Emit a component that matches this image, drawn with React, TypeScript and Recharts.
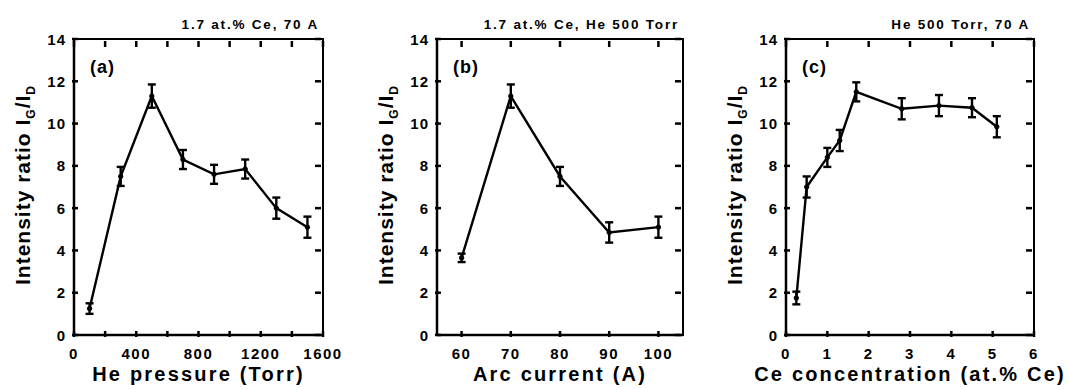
import React from "react";
import { LineChart, Line, XAxis, YAxis, ErrorBar } from "recharts";

// (a) He pressure series
const pressure = [100, 300, 500, 700, 900, 1100, 1300, 1500];
const ratioA = [1.25, 7.5, 11.3, 8.3, 7.6, 7.85, 6.0, 5.1];
const errA = [0.25, 0.45, 0.55, 0.45, 0.45, 0.45, 0.5, 0.5];
const ticksA = [0, 200, 400, 600, 800, 1000, 1200, 1400, 1600];
const labelsA = [0, 400, 800, 1200, 1600];

// (b) arc current series
const current = [60, 70, 80, 90, 100];
const ratioB = [3.65, 11.3, 7.5, 4.85, 5.1];
const errB = [0.2, 0.55, 0.45, 0.48, 0.5];
const ticksB = [60, 70, 80, 90, 100];

// (c) Ce concentration series
const conc = [0.25, 0.5, 1.0, 1.3, 1.7, 2.8, 3.7, 4.5, 5.1];
const ratioC = [1.75, 7.0, 8.4, 9.2, 11.5, 10.7, 10.85, 10.75, 9.85];
const errC = [0.3, 0.5, 0.45, 0.5, 0.45, 0.5, 0.5, 0.45, 0.5];
const ticksC = [0, 1, 2, 3, 4, 5, 6];

const yTicks = [0, 2, 4, 6, 8, 10, 12, 14];

const FONT = "'Liberation Sans', Arial, Helvetica, sans-serif";
const INK = "#000";
const H = 389;
const TOP = 39;
const BOTTOM = 54;
const PLOT_H = H - TOP - BOTTOM;
const FRAME = 2.5;

type PanelProps = {
  left: number;
  width: number;
  yAxisWidth: number;
  marginRight: number;
  xs: number[];
  ys: number[];
  errs: number[];
  domain: [number, number];
  ticks: number[];
  labelTicks: number[];
  xTitle: string;
  title: string;
  letter: string;
};

function Panel(p: PanelProps) {
  const data = p.xs.map((x, i) => ({ x, y: p.ys[i], err: p.errs[i] }));
  const plotW = p.width - p.yAxisWidth - p.marginRight;

  // bottom ticks point inward, mirrored on the top edge of the frame
  const bottomTick = (props: any) => {
    const { x, y, payload } = props;
    const top = y - PLOT_H;
    return (
      <g>
        <line x1={x} x2={x} y1={y} y2={y - 6} stroke={INK} strokeWidth={2.5} />
        <line x1={x} x2={x} y1={top} y2={top + 6} stroke={INK} strokeWidth={2.5} />
        {p.labelTicks.includes(payload.value) && (
          <text x={x} y={y + 22} textAnchor="middle" fontFamily={FONT} fontWeight="bold" fontSize={15} letterSpacing={1.5} fill={INK}>
            {payload.value}
          </text>
        )}
      </g>
    );
  };
  // left ticks point inward, mirrored on the right edge
  const leftTick = (props: any) => {
    const { x, y, payload } = props;
    const right = x + plotW;
    return (
      <g>
        <line x1={x} x2={x + 6} y1={y} y2={y} stroke={INK} strokeWidth={2.5} />
        <line x1={right} x2={right - 6} y1={y} y2={y} stroke={INK} strokeWidth={2.5} />
        <text x={x - 6} y={y + 5.5} textAnchor="end" fontFamily={FONT} fontWeight="bold" fontSize={15} letterSpacing={1} fill={INK}>
          {payload.value}
        </text>
      </g>
    );
  };

  const xLabels = (props: any) => {
    const vb = props.viewBox;
    const plotTop = vb.y - PLOT_H;
    return (
      <g>
        <text x={vb.x + vb.width / 2} y={vb.y + 46} textAnchor="middle" fontFamily={FONT} fontWeight="bold" fontSize={20} letterSpacing={2.2} fill={INK}>
          {p.xTitle}
        </text>
        <text x={vb.x + vb.width - 4} y={plotTop - 10} textAnchor="end" fontFamily={FONT} fontWeight="bold" fontSize={13.5} letterSpacing={1.8} fill={INK}>
          {p.title}
        </text>
        <text x={vb.x + 16} y={plotTop + 34} fontFamily={FONT} fontWeight="bold" fontSize={18} letterSpacing={1} fill={INK}>
          {p.letter}
        </text>
      </g>
    );
  };
  const yTitleLabel = (props: any) => {
    const vb = props.viewBox;
    const cx = vb.x + vb.width - 44;
    const cy = vb.y + vb.height / 2 - 2;
    return (
      <text
        x={cx}
        y={cy}
        transform={`rotate(-90, ${cx}, ${cy})`}
        textAnchor="middle"
        fontFamily={FONT}
        fontWeight="bold"
        fontSize={21}
        letterSpacing={1}
        fill={INK}
      >
        Intensity ratio I
        <tspan fontSize={12} dy={5}>G</tspan>
        <tspan dy={-5}>/I</tspan>
        <tspan fontSize={12} dy={5}>D</tspan>
      </text>
    );
  };

  return (
    <div style={{ position: "absolute", left: p.left, top: 0, width: p.width, height: H }}>
      <LineChart
        width={p.width}
        height={H}
        data={data}
        margin={{ top: TOP, right: p.marginRight, bottom: 0, left: 0 }}
      >
        <XAxis
          dataKey="x"
          type="number"
          domain={p.domain}
          ticks={p.ticks}
          height={BOTTOM}
          tickSize={0}
          tickLine={false}
          axisLine={{ stroke: INK, strokeWidth: FRAME }}
          tick={bottomTick}
          interval={0}
          label={xLabels}
        />
        <YAxis
          type="number"
          domain={[0, 14]}
          ticks={yTicks}
          width={p.yAxisWidth}
          tickSize={0}
          tickLine={false}
          axisLine={{ stroke: INK, strokeWidth: FRAME }}
          tick={leftTick}
          interval={0}
          label={yTitleLabel}
        />
        <Line
          dataKey="y"
          type="linear"
          stroke={INK}
          strokeWidth={2.4}
          dot={{ r: 2.2, fill: INK, stroke: INK, strokeWidth: 1 }}
          activeDot={false}
          isAnimationActive={false}
        >
          <ErrorBar dataKey="err" direction="y" width={4} stroke={INK} strokeWidth={2.4} isAnimationActive={false} />
        </Line>
      </LineChart>
      {/* plot frame */}
      <div
        style={{
          position: "absolute",
          left: p.yAxisWidth - FRAME / 2,
          top: TOP - FRAME / 2,
          width: plotW + FRAME,
          height: PLOT_H + FRAME,
          border: `${FRAME}px solid ${INK}`,
          boxSizing: "border-box",
          pointerEvents: "none",
        }}
      />
    </div>
  );
}

export default function App() {
  return (
    <div style={{ position: "absolute", left: 0, top: 0, width: 1069, height: 389 }}>
      <Panel
        left={0}
        width={350}
        yAxisWidth={74}
        marginRight={27}
        xs={pressure}
        ys={ratioA}
        errs={errA}
        domain={[0, 1600]}
        ticks={ticksA}
        labelTicks={labelsA}
        xTitle="He pressure (Torr)"
        title="1.7 at.% Ce, 70 A"
        letter="(a)"
      />
      <Panel
        left={355}
        width={350}
        yAxisWidth={82}
        marginRight={22}
        xs={current}
        ys={ratioB}
        errs={errB}
        domain={[55, 105]}
        ticks={ticksB}
        labelTicks={ticksB}
        xTitle="Arc current (A)"
        title="1.7 at.% Ce, He 500 Torr"
        letter="(b)"
      />
      <Panel
        left={709}
        width={360}
        yAxisWidth={77}
        marginRight={35}
        xs={conc}
        ys={ratioC}
        errs={errC}
        domain={[0, 6]}
        ticks={ticksC}
        labelTicks={ticksC}
        xTitle="Ce concentration (at.% Ce)"
        title="He 500 Torr, 70 A"
        letter="(c)"
      />
    </div>
  );
}
